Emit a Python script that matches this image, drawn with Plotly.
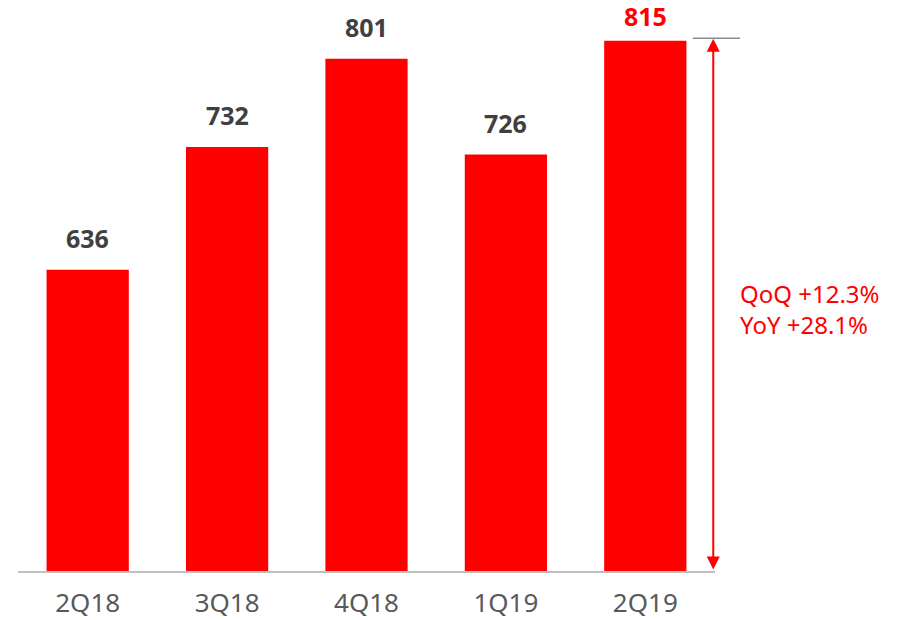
import plotly.graph_objects as go

# quarterly values
quarters = ['2Q18', '3Q18', '4Q18', '1Q19', '2Q19']
values = [636, 732, 801, 726, 815]
label_colors = ['#404040', '#404040', '#404040', '#404040', '#FF0000']
growth_text = 'QoQ +12.3%<br>YoY +28.1%'

y_min = 400.5
y_max = 831.2

bars = go.Bar(
    x=quarters,
    y=values,
    marker=dict(color='#FF0000', line=dict(width=0)),
    hoverinfo='x+y',
)

fig = go.Figure(data=[bars])

# value labels above the bars (the last one sits a little closer to its bar)
for i, (q, v, c) in enumerate(zip(quarters, values, label_colors)):
    fig.add_annotation(
        x=q, y=v, text='<b>%d</b>' % v, showarrow=False,
        yanchor='bottom', yshift=14 if i < len(values) - 1 else 7,
        borderpad=0,
        font=dict(size=25, color=c, family='Noto Sans'),
    )

# small gray marker line at the top value
fig.add_shape(
    type='line', xref='paper', yref='y',
    x0=0.968, x1=1.036, y0=values[-1] + 2, y1=values[-1] + 2,
    line=dict(color='#8C8C8C', width=1.5),
)

# double headed arrow from baseline to top value
fig.add_annotation(
    xref='paper', yref='y', x=0.9975, y=values[-1] + 1.5,
    axref='pixel', ayref='y', ax=0, ay=y_min,
    text='', showarrow=True, arrowside='end+start',
    arrowhead=2, arrowsize=1.3, arrowwidth=2, arrowcolor='#FF0000',
)

fig.add_annotation(
    xref='paper', yref='paper', x=1.033, y=0.476,
    xanchor='left', yanchor='middle', align='left',
    text=growth_text, showarrow=False,
    font=dict(size=24, color='#FF0000', family='Noto Sans'),
)

fig.update_layout(
    width=899, height=620,
    margin=dict(l=18, r=184, t=20, b=49),
    plot_bgcolor='white', paper_bgcolor='white',
    bargap=0.41,
    showlegend=False,
    font=dict(family='Noto Sans'),
    xaxis=dict(
        showline=True, linecolor='#BFBFBF', linewidth=1.5,
        showgrid=False, ticks='', ticklabelstandoff=8,
        tickfont=dict(size=26, color='#595959'),
        automargin=False, fixedrange=True,
    ),
    yaxis=dict(
        range=[y_min, y_max], visible=False, showgrid=False, zeroline=False,
        automargin=False, fixedrange=True,
    ),
)

# drop the default body margin so the figure sits at the page corner
fig.write_html('out.html', config={'displayModeBar': False},
               post_script="document.body.style.margin='0';")
